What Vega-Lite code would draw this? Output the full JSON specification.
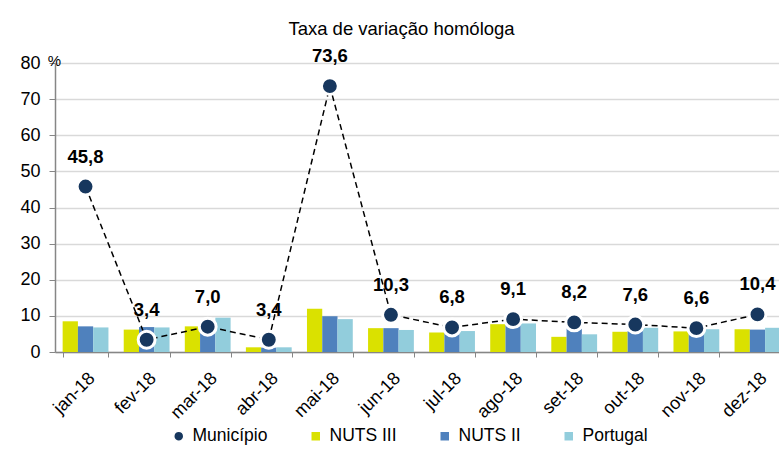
{
  "$schema": "https://vega.github.io/schema/vega-lite/v6.json",
  "autosize": {"type": "none"},
  "padding": {"left": 55, "top": 63, "right": 0, "bottom": 110},
  "width": 733,
  "height": 289,
  "background": "white",
  "config": {
    "font": "Liberation Sans",
    "view": {"stroke": null},
    "locale": {"number": {"decimal": ",", "thousands": ".", "grouping": [3], "currency": ["", " €"]}}
  },
  "title": {"text": "Taxa de variação homóloga", "fontSize": 18.5, "fontWeight": "normal", "color": "#000000", "offset": 9, "dx": -20, "anchor": "middle"},
  "datasets": {
    "bars": [
      {"month": "jan-18", "series": "NUTS III", "value": 8.5},
      {"month": "jan-18", "series": "NUTS II", "value": 7.1},
      {"month": "jan-18", "series": "Portugal", "value": 6.8},
      {"month": "fev-18", "series": "NUTS III", "value": 6.2},
      {"month": "fev-18", "series": "NUTS II", "value": 6.9},
      {"month": "fev-18", "series": "Portugal", "value": 6.8},
      {"month": "mar-18", "series": "NUTS III", "value": 7.1},
      {"month": "mar-18", "series": "NUTS II", "value": 7.3},
      {"month": "mar-18", "series": "Portugal", "value": 9.5},
      {"month": "abr-18", "series": "NUTS III", "value": 1.3},
      {"month": "abr-18", "series": "NUTS II", "value": 1.2},
      {"month": "abr-18", "series": "Portugal", "value": 1.3},
      {"month": "mai-18", "series": "NUTS III", "value": 12.0},
      {"month": "mai-18", "series": "NUTS II", "value": 9.9},
      {"month": "mai-18", "series": "Portugal", "value": 9.1},
      {"month": "jun-18", "series": "NUTS III", "value": 6.6},
      {"month": "jun-18", "series": "NUTS II", "value": 6.6},
      {"month": "jun-18", "series": "Portugal", "value": 6.1},
      {"month": "jul-18", "series": "NUTS III", "value": 5.4},
      {"month": "jul-18", "series": "NUTS II", "value": 5.5},
      {"month": "jul-18", "series": "Portugal", "value": 5.8},
      {"month": "ago-18", "series": "NUTS III", "value": 7.7},
      {"month": "ago-18", "series": "NUTS II", "value": 8.0},
      {"month": "ago-18", "series": "Portugal", "value": 7.9},
      {"month": "set-18", "series": "NUTS III", "value": 4.2},
      {"month": "set-18", "series": "NUTS II", "value": 6.5},
      {"month": "set-18", "series": "Portugal", "value": 4.9},
      {"month": "out-18", "series": "NUTS III", "value": 5.6},
      {"month": "out-18", "series": "NUTS II", "value": 5.8},
      {"month": "out-18", "series": "Portugal", "value": 6.7},
      {"month": "nov-18", "series": "NUTS III", "value": 5.7},
      {"month": "nov-18", "series": "NUTS II", "value": 5.5},
      {"month": "nov-18", "series": "Portugal", "value": 6.3},
      {"month": "dez-18", "series": "NUTS III", "value": 6.3},
      {"month": "dez-18", "series": "NUTS II", "value": 6.2},
      {"month": "dez-18", "series": "Portugal", "value": 6.7}
    ],
    "mun": [
      {"month": "jan-18", "series": "Município", "value": 45.8},
      {"month": "fev-18", "series": "Município", "value": 3.4},
      {"month": "mar-18", "series": "Município", "value": 7.0},
      {"month": "abr-18", "series": "Município", "value": 3.4},
      {"month": "mai-18", "series": "Município", "value": 73.6},
      {"month": "jun-18", "series": "Município", "value": 10.3},
      {"month": "jul-18", "series": "Município", "value": 6.8},
      {"month": "ago-18", "series": "Município", "value": 9.1},
      {"month": "set-18", "series": "Município", "value": 8.2},
      {"month": "out-18", "series": "Município", "value": 7.6},
      {"month": "nov-18", "series": "Município", "value": 6.6},
      {"month": "dez-18", "series": "Município", "value": 10.4}
    ]
  },
  "encoding": {
    "x": {
      "field": "month", "type": "nominal",
      "sort": ["jan-18","fev-18","mar-18","abr-18","mai-18","jun-18","jul-18","ago-18","set-18","out-18","nov-18","dez-18"],
      "scale": {"paddingInner": 0.25, "paddingOuter": 0.125},
      "axis": {"title": null, "labelAngle": -45, "labelFontSize": 18, "labelColor": "#000000", "tickBand": "extent", "tickColor": "#868686", "tickSize": 5, "domainColor": "#868686", "domainWidth": 1.5, "labelPadding": 12}
    },
    "y": {
      "field": "value", "type": "quantitative",
      "scale": {"domain": [0, 80], "nice": false},
      "axis": {"title": "%", "titleAngle": 0, "titleX": -1, "titleY": -3, "titleAlign": "center", "titleBaseline": "middle", "titleFontSize": 15, "titleFontWeight": "normal", "titleColor": "#000000", "values": [0,10,20,30,40,50,60,70,80], "labelFontSize": 18, "labelColor": "#000000", "gridColor": "#d9d9d9", "gridWidth": 1.5, "domainColor": "#868686", "domainWidth": 1.5, "tickColor": "#868686", "tickSize": 6, "labelPadding": 9}
    }
  },
  "layer": [
    {
      "data": {"name": "bars"},
      "mark": {"type": "bar"},
      "encoding": {
        "xOffset": {"field": "series", "type": "nominal", "sort": ["NUTS III", "NUTS II", "Portugal"], "scale": {"paddingInner": 0, "paddingOuter": 0}},
        "color": {
          "field": "series", "type": "nominal",
          "scale": {"domain": ["Município", "NUTS III", "NUTS II", "Portugal"], "range": ["#17375E", "#DAE100", "#4F81BD", "#92CDDC"]},
          "legend": {"title": null, "orient": "none", "legendX": 115, "legendY": 364, "direction": "horizontal", "labelFontSize": 17.5, "labelColor": "#000000", "columnPadding": 39, "symbolSize": 100, "labelOffset": 5}
        }
      }
    },
    {
      "data": {"name": "mun"},
      "mark": {"type": "line", "color": "#000000", "strokeDash": [6, 4], "strokeWidth": 1.5},
      "encoding": {}
    },
    {
      "data": {"name": "mun"},
      "mark": {"type": "point", "filled": true, "size": 285, "stroke": "white", "strokeWidth": 3, "opacity": 1},
      "encoding": {
        "color": {"field": "series", "type": "nominal"},
        "shape": {"field": "series", "type": "nominal", "scale": {"domain": ["Município", "NUTS III", "NUTS II", "Portugal"], "range": ["circle", "square", "square", "square"]}}
      }
    },
    {
      "data": {"name": "mun"},
      "mark": {"type": "text", "fontSize": 18.5, "fontWeight": "bold", "color": "#000000", "dy": -30, "baseline": "middle"},
      "encoding": {"text": {"field": "value", "type": "quantitative", "format": ".1f"}}
    }
  ]
}
